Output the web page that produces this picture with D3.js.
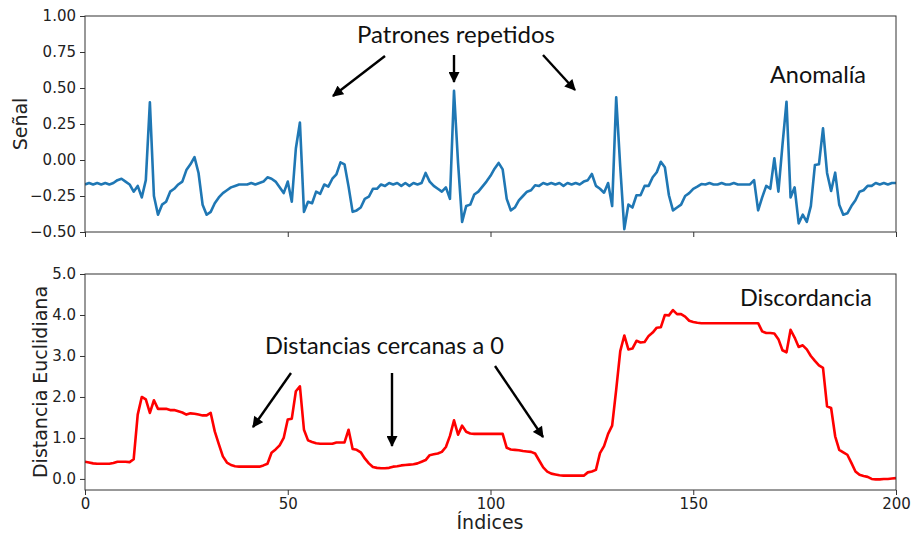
<!DOCTYPE html>
<html>
<head>
<meta charset="utf-8">
<script src="https://cdnjs.cloudflare.com/ajax/libs/d3/7.8.5/d3.min.js"></script>
<style>
  html, body { margin: 0; padding: 0; background: #fff; }
  svg { display: block; }
  .tick text { font-family: "DejaVu Sans", sans-serif; font-size: 15px; fill: #222; }
  .tick line { stroke: #333; }
  .domain { display: none; }
</style>
</head>
<body>
<svg id="chart" width="912" height="537"></svg>
<script>
// Signal (Señal) sampled at indices 0..200
const signal = [
  -0.17, -0.16, -0.17, -0.16, -0.17, -0.16, -0.17, -0.16, -0.14, -0.13,
  -0.15, -0.17, -0.22, -0.18, -0.26, -0.14, 0.40, -0.25, -0.38, -0.31,
  -0.29, -0.22, -0.20, -0.17, -0.15, -0.07, -0.03, 0.02, -0.09, -0.31,
  -0.38, -0.36, -0.30, -0.26, -0.23, -0.21, -0.19, -0.18, -0.17, -0.17,
  -0.17, -0.16, -0.17, -0.16, -0.15, -0.12, -0.13, -0.15, -0.19, -0.23,
  -0.15, -0.29, 0.08, 0.26, -0.36, -0.29, -0.30, -0.22, -0.235, -0.17,
  -0.185, -0.13, -0.10, -0.016, -0.03, -0.185, -0.36, -0.35, -0.33, -0.27,
  -0.255, -0.20, -0.20, -0.17, -0.18, -0.16, -0.17, -0.16, -0.18, -0.16,
  -0.18, -0.16, -0.17, -0.16, -0.09, -0.15, -0.18, -0.20, -0.22, -0.19,
  -0.27, 0.48, -0.02, -0.43, -0.32, -0.31, -0.24, -0.22, -0.185, -0.15,
  -0.11, -0.06, -0.02, -0.065, -0.27, -0.35, -0.33, -0.28, -0.25, -0.22,
  -0.21, -0.175, -0.18, -0.16, -0.17, -0.16, -0.17, -0.16, -0.18, -0.16,
  -0.17, -0.16, -0.17, -0.15, -0.14, -0.097, -0.18, -0.20, -0.227, -0.16,
  -0.32, 0.435, -0.05, -0.48, -0.31, -0.33, -0.245, -0.245, -0.18, -0.18,
  -0.12, -0.085, -0.012, -0.05, -0.245, -0.35, -0.33, -0.31, -0.25, -0.23,
  -0.20, -0.185, -0.167, -0.17, -0.16, -0.17, -0.17, -0.16, -0.17, -0.17,
  -0.16, -0.17, -0.17, -0.17, -0.17, -0.14, -0.35, -0.26, -0.18, -0.20,
  0.012, -0.22, 0.104, 0.405, -0.26, -0.19, -0.44, -0.38, -0.43, -0.32,
  -0.035, -0.03, 0.22, -0.09, -0.215, -0.088, -0.31, -0.38, -0.37, -0.32,
  -0.28, -0.22, -0.21, -0.18, -0.18, -0.16, -0.17, -0.16, -0.17, -0.16,
  -0.16
];

// Euclidean distance profile at indices 0..200
const distance = [
  0.42, 0.40, 0.38, 0.37, 0.37, 0.37, 0.37, 0.39, 0.42, 0.42,
  0.42, 0.41, 0.48, 1.57, 2.00, 1.94, 1.61, 1.92, 1.71, 1.71,
  1.71, 1.68, 1.68, 1.65, 1.62, 1.57, 1.60, 1.59, 1.57, 1.55,
  1.55, 1.61, 1.16, 0.85, 0.55, 0.40, 0.34, 0.31, 0.30, 0.30,
  0.30, 0.30, 0.30, 0.30, 0.33, 0.37, 0.64, 0.72, 0.82, 1.00,
  1.45, 1.47, 2.14, 2.26, 1.20, 0.94, 0.90, 0.87, 0.86, 0.86,
  0.86, 0.86, 0.89, 0.89, 0.89, 1.20, 0.73, 0.71, 0.65, 0.50,
  0.38, 0.29, 0.27, 0.26, 0.26, 0.27, 0.30, 0.31, 0.33, 0.34,
  0.35, 0.36, 0.38, 0.42, 0.46, 0.58, 0.60, 0.62, 0.66, 0.78,
  1.05, 1.43, 1.08, 1.30, 1.15, 1.11, 1.10, 1.10, 1.10, 1.10,
  1.10, 1.10, 1.10, 1.10, 0.76, 0.72, 0.71, 0.70, 0.68, 0.67,
  0.66, 0.62, 0.45, 0.28, 0.18, 0.13, 0.11, 0.09, 0.08, 0.08,
  0.08, 0.08, 0.08, 0.08, 0.16, 0.18, 0.22, 0.63, 0.80, 1.10,
  1.30, 2.18, 3.12, 3.50, 3.16, 3.18, 3.37, 3.33, 3.34, 3.49,
  3.57, 3.69, 3.70, 4.00, 3.99, 4.12, 4.02, 4.02, 3.96, 3.86,
  3.83, 3.81, 3.80, 3.80, 3.80, 3.80, 3.80, 3.80, 3.80, 3.80,
  3.80, 3.80, 3.80, 3.80, 3.80, 3.80, 3.80, 3.60, 3.56, 3.56,
  3.55, 3.41, 3.14, 3.09, 3.64, 3.45, 3.22, 3.26, 3.16, 3.00,
  2.88, 2.77, 2.71, 1.77, 1.73, 1.04, 0.71, 0.65, 0.59, 0.39,
  0.18, 0.10, 0.07, 0.05, 0.00, -0.01, -0.01, 0.00, 0.00, 0.01,
  0.02
];

const xTicks = [0, 50, 100, 150, 200];
const signalTicks = [-0.50, -0.25, 0.00, 0.25, 0.50, 0.75, 1.00];
const distanceTicks = [0, 1, 2, 3, 4, 5];

const svg = d3.select("#chart");
const left = 85, right = 896;
const topPanel = { top: 16, bottom: 232 };
const botPanel = { top: 274, bottom: 490 };

const x = d3.scaleLinear().domain([0, 200]).range([left, right]);
const ySig = d3.scaleLinear().domain([-0.5, 1.0]).range([topPanel.bottom, topPanel.top]);
const yDist = d3.scaleLinear().domain([-0.27, 5.0]).range([botPanel.bottom, botPanel.top]);

const minus = s => s.replace("-", "\u2212");

// clip paths per panel
const defs = svg.append("defs");
[["clipTop", topPanel], ["clipBot", botPanel]].forEach(([id, p]) => {
  defs.append("clipPath").attr("id", id).append("rect")
    .attr("x", left).attr("y", p.top).attr("width", right - left).attr("height", p.bottom - p.top);
});
defs.append("marker")
  .attr("id", "head").attr("viewBox", "0 0 10 10")
  .attr("refX", 9).attr("refY", 5)
  .attr("markerUnits", "userSpaceOnUse")
  .attr("markerWidth", 12).attr("markerHeight", 11)
  .attr("orient", "auto")
  .append("path").attr("d", "M0,0 L10,5 L0,10 Z").attr("fill", "#000");

// axes
svg.append("g").attr("transform", `translate(${left},0)`)
  .call(d3.axisLeft(ySig).tickValues(signalTicks).tickSize(5).tickPadding(4)
    .tickFormat(d => minus(d3.format(".2f")(d))));
svg.append("g").attr("transform", `translate(0,${topPanel.bottom})`)
  .call(d3.axisBottom(x).tickValues(xTicks).tickSize(5).tickFormat(""));
svg.append("g").attr("transform", `translate(${left},0)`)
  .call(d3.axisLeft(yDist).tickValues(distanceTicks).tickSize(5).tickPadding(4)
    .tickFormat(d => minus(d3.format(".1f")(d))));
svg.append("g").attr("transform", `translate(0,${botPanel.bottom})`)
  .call(d3.axisBottom(x).tickValues(xTicks).tickSize(5).tickPadding(3));

// lines
const lineSig = d3.line().x((d, i) => x(i)).y(d => ySig(d));
const lineDist = d3.line().x((d, i) => x(i)).y(d => yDist(d));

svg.append("path").datum(signal)
  .attr("clip-path", "url(#clipTop)")
  .attr("d", lineSig).attr("fill", "none")
  .attr("stroke", "#1f77b4").attr("stroke-width", 2.6).attr("stroke-linejoin", "round");

svg.append("path").datum(distance)
  .attr("clip-path", "url(#clipBot)")
  .attr("d", lineDist).attr("fill", "none")
  .attr("stroke", "#ff0000").attr("stroke-width", 2.6).attr("stroke-linejoin", "round");

// frames
[topPanel, botPanel].forEach(p => {
  svg.append("rect").attr("x", left).attr("y", p.top)
    .attr("width", right - left).attr("height", p.bottom - p.top)
    .attr("fill", "none").attr("stroke", "#333").attr("stroke-width", 1);
});

// axis titles
const axisFont = '"DejaVu Sans", sans-serif';
svg.append("text").attr("transform", "translate(27,124) rotate(-90)")
  .attr("text-anchor", "middle").attr("font-family", axisFont).attr("font-size", 19).attr("fill", "#222")
  .text("Señal");
svg.append("text").attr("transform", "translate(47,382) rotate(-90)")
  .attr("text-anchor", "middle").attr("font-family", axisFont).attr("font-size", 19).attr("fill", "#222")
  .text("Distancia Euclidiana");
svg.append("text").attr("x", 490).attr("y", 529)
  .attr("text-anchor", "middle").attr("font-family", axisFont).attr("font-size", 19).attr("fill", "#222")
  .text("Índices");

// annotations
const noteFont = 'Lato, "Open Sans", sans-serif';
function note(txt, x0, x1, baseline, size) {
  svg.append("text").attr("x", x0).attr("y", baseline)
    .attr("font-family", noteFont).attr("font-size", size).attr("fill", "#111")
    .attr("textLength", x1 - x0).attr("lengthAdjust", "spacingAndGlyphs")
    .text(txt);
}
note("Patrones repetidos", 357, 555, 43, 23);
note("Anomalía", 770, 866, 83, 23);
note("Discordancia", 740, 872, 306, 23);
note("Distancias cercanas a 0", 265, 504, 354, 23);

const arrows = [
  [385, 56, 333, 96], [454, 55, 454, 82], [543, 55, 575, 90],
  [291, 373, 253, 427], [392, 373, 392, 446], [495, 366, 543, 437]
];
arrows.forEach(([x1, y1, x2, y2]) => {
  svg.append("line").attr("x1", x1).attr("y1", y1).attr("x2", x2).attr("y2", y2)
    .attr("stroke", "#000").attr("stroke-width", 2.4).attr("marker-end", "url(#head)");
});
</script>
</body>
</html>
